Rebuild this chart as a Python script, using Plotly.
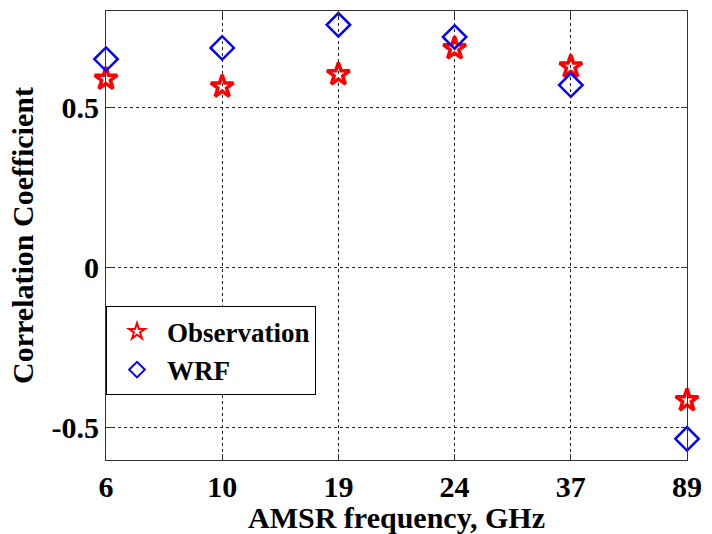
import plotly.graph_objects as go

# AMSR channel frequencies (GHz) and correlation coefficients
freqs = ["6", "10", "19", "24", "37", "89"]
obs_corr = [0.588, 0.564, 0.602, 0.683, 0.626, -0.414]
wrf_corr = [0.650, 0.685, 0.757, 0.719, 0.569, -0.534]
y_ticks = [-0.5, 0, 0.5]
y_tick_text = ["-0.5", "0", "0.5"]

x_pos = list(range(len(freqs)))
font_family = "Liberation Serif, Times New Roman, serif"

fig = go.Figure()
fig.add_trace(go.Scatter(
    x=x_pos, y=obs_corr, mode="markers", name="Observation",
    marker=dict(symbol="star-open", size=17, color="red",
                line=dict(color="red", width=3.5)),
    cliponaxis=False,
))
fig.add_trace(go.Scatter(
    x=x_pos, y=wrf_corr, mode="markers", name="WRF",
    marker=dict(symbol="diamond-open", size=18, color="blue",
                line=dict(color="blue", width=2.5)),
    cliponaxis=False,
))

axis_common = dict(
    showline=True, linecolor="#333333", linewidth=1.2, mirror="allticks",
    ticks="inside", ticklen=6, tickcolor="#333333",
    showgrid=True, gridcolor="#222222", griddash="dot", gridwidth=1,
    zeroline=False,
    tickfont=dict(family=font_family, size=30, color="black", weight="bold"),
    title_font=dict(family=font_family, size=30, color="black", weight="bold"),
)

fig.update_xaxes(
    range=[0, len(freqs) - 1], tickvals=x_pos, ticktext=freqs,
    title_text="AMSR frequency, GHz", title_standoff=0,
    **axis_common,
)
fig.update_yaxes(
    range=[-0.6, 0.8], tickvals=y_ticks, ticktext=y_tick_text,
    title_text="Correlation Coefficient", title_standoff=8,
    **axis_common,
)

fig.update_layout(
    width=712, height=534,
    margin=dict(l=106, r=17, t=10, b=74),
    plot_bgcolor="white", paper_bgcolor="white",
    font=dict(family=font_family, color="black"),
    legend=dict(
        x=0, y=0.342, xanchor="left", yanchor="top",
        bgcolor="white", bordercolor="black", borderwidth=1,
        font=dict(family=font_family, size=27, color="black", weight="bold"),
        itemwidth=50, entrywidth=250, itemsizing="constant",
        tracegroupgap=0,
    ),
)

fig.write_html("out.html")
